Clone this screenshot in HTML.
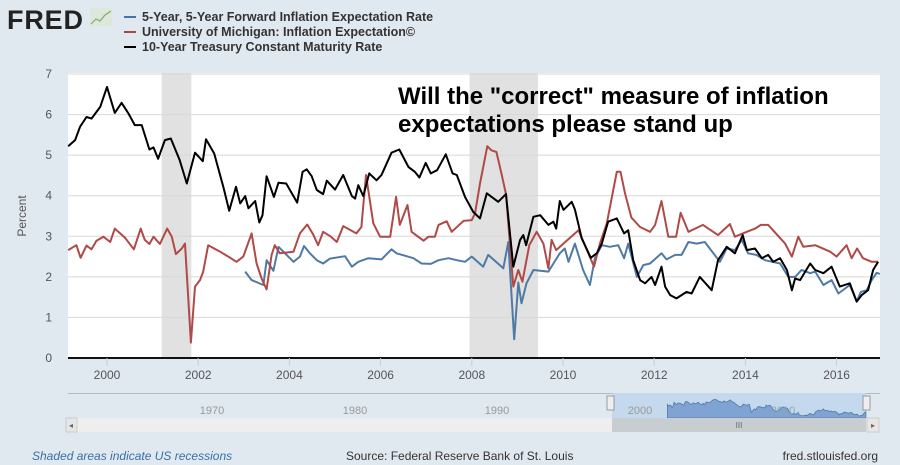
<!DOCTYPE html>
<html><head><meta charset="utf-8">
<style>
html,body{margin:0;padding:0;background:#e1e9f0;}
body{width:900px;height:465px;overflow:hidden;font-family:"Liberation Sans",sans-serif;}
svg{display:block}
</style></head>
<body>
<svg id="chart" width="900" height="465" xmlns="http://www.w3.org/2000/svg">
  <rect x="0" y="0" width="900" height="465" fill="#e1e9f0"/>
  <g>
    <text x="7" y="29" font-family="Liberation Sans" font-weight="bold" font-size="27" fill="#222" textLength="76">FRED</text>
    <rect x="90" y="8" width="22" height="18" fill="#dfe6dc"/>
    <polyline points="91,24 96,19 100,21 105,15 111,11" fill="none" stroke="#7fae6e" stroke-width="1.2"/>
  </g>
  <g font-family="Liberation Sans" font-size="12.5" font-weight="bold" fill="#333">
    <g><line x1="124" y1="17" x2="136" y2="17" stroke="#4572a7" stroke-width="2"/><text x="142" y="21">5-Year, 5-Year Forward Inflation Expectation Rate</text></g>
    <g><line x1="124" y1="32" x2="136" y2="32" stroke="#aa4643" stroke-width="2"/><text x="142" y="36">University of Michigan: Inflation Expectation©</text></g>
    <g><line x1="124" y1="47" x2="136" y2="47" stroke="#000" stroke-width="2"/><text x="142" y="51">10-Year Treasury Constant Maturity Rate</text></g>
  </g>
  <rect x="68" y="73" width="812" height="285" fill="#fff"/>
  <g id="recessions"></g>
  <g id="grid"></g>
  <g id="series"></g>
  <g id="axes"></g>
  <text x="398" y="104" font-family="Liberation Sans" font-weight="bold" font-size="24" fill="#000">Will the "correct" measure of inflation</text>
  <text x="398" y="132" font-family="Liberation Sans" font-weight="bold" font-size="24" fill="#000">expectations please stand up</text>
  <text transform="translate(26,216) rotate(-90)" text-anchor="middle" font-size="12" fill="#555">Percent</text>
  <g>
    <rect x="68" y="393" width="812" height="25" fill="#e1e9f0"/>
    <line x1="68" y1="393.5" x2="880" y2="393.5" stroke="#b0b8c0"/>
    <rect x="612" y="393" width="254" height="25" fill="#c4d8ee"/>
    <g id="navseries"></g>
    <text x="212" y="414" font-size="11" fill="#999" text-anchor="middle">1970</text>
    <text x="355" y="414" font-size="11" fill="#999" text-anchor="middle">1980</text>
    <text x="497" y="414" font-size="11" fill="#999" text-anchor="middle">1990</text>
    <text x="640" y="414" font-size="11" fill="#999" text-anchor="middle">2000</text>
    <text x="783" y="414" font-size="11" fill="#8aa" text-anchor="middle">2010</text>
    <rect x="607" y="396" width="7" height="14" fill="#eee" stroke="#999"/>
    <rect x="863" y="396" width="7" height="14" fill="#eee" stroke="#999"/>
  </g>
  <g>
    <rect x="66" y="418" width="814" height="14" fill="#eeeeee"/>
    <rect x="66" y="418" width="11" height="14" fill="#e6e6e6" stroke="#ccc"/>
    <text x="71" y="428" font-size="8" fill="#666" text-anchor="middle">◂</text>
    <rect x="612" y="418" width="254" height="14" fill="#c8cdd2"/>
    <text x="739" y="428" font-size="8" fill="#666" text-anchor="middle">III</text>
    <rect x="867" y="418" width="12" height="14" fill="#e6e6e6" stroke="#ccc"/>
    <text x="873" y="428" font-size="8" fill="#666" text-anchor="middle">▸</text>
  </g>
  <text x="32" y="460" font-size="12" font-style="italic" fill="#3a6fa8">Shaded areas indicate US recessions</text>
  <text x="346" y="460" font-size="12" fill="#333">Source: Federal Reserve Bank of St. Louis</text>
  <text x="878" y="460" font-size="12" fill="#333" text-anchor="end">fred.stlouisfed.org</text>
</svg>
<script>
const yTicks=[0,1,2,3,4,5,6,7];
const xTicks=[2000,2002,2004,2006,2008,2010,2012,2014,2016];
const recStart=[2001.2,2007.95];
const recEnd=[2001.85,2009.45];
const t10Dates=[1999.15,1999.3,1999.41,1999.55,1999.66,1999.85,2000.0,2000.17,2000.32,2000.47,2000.61,2000.76,2000.93,2001.02,2001.12,2001.27,2001.4,2001.59,2001.75,2001.93,2002.1,2002.17,2002.35,2002.55,2002.68,2002.83,2002.92,2003.03,2003.1,2003.25,2003.34,2003.41,2003.5,2003.66,2003.76,2003.93,2004.17,2004.29,2004.38,2004.49,2004.6,2004.74,2004.82,2005.0,2005.18,2005.37,2005.44,2005.51,2005.62,2005.75,2005.91,2006.02,2006.24,2006.41,2006.61,2006.75,2006.85,2006.99,2007.1,2007.24,2007.43,2007.58,2007.67,2007.85,2008.03,2008.18,2008.33,2008.58,2008.75,2008.91,2009.06,2009.13,2009.19,2009.35,2009.5,2009.68,2009.79,2009.85,2009.93,2010.01,2010.19,2010.26,2010.41,2010.61,2010.74,2010.85,2010.99,2011.18,2011.34,2011.43,2011.54,2011.69,2011.8,2011.94,2012.02,2012.16,2012.24,2012.35,2012.49,2012.71,2012.82,2013.0,2013.26,2013.4,2013.59,2013.77,2013.94,2014.03,2014.21,2014.36,2014.5,2014.61,2014.76,2014.91,2015.02,2015.09,2015.2,2015.42,2015.53,2015.71,2015.89,2016.07,2016.29,2016.44,2016.55,2016.69,2016.8,2016.91];
const t10Values=[5.22,5.37,5.7,5.94,5.9,6.19,6.68,6.04,6.29,6.03,5.74,5.74,5.14,5.19,4.91,5.37,5.41,4.89,4.3,5.06,4.85,5.39,5.04,4.22,3.63,4.22,3.81,3.99,3.69,3.87,3.34,3.52,4.48,3.97,4.32,4.3,3.83,4.59,4.65,4.48,4.14,4.04,4.37,4.15,4.51,3.99,3.93,4.26,3.99,4.55,4.38,4.51,5.06,5.14,4.71,4.59,4.45,4.81,4.55,4.63,5.02,4.55,4.51,3.97,3.6,3.44,4.06,3.85,4.04,2.25,2.91,3.03,2.78,3.48,3.52,3.28,3.36,3.19,3.87,3.65,3.85,3.66,2.95,2.47,2.58,2.82,3.36,3.44,3.07,3.15,2.41,1.92,1.84,2.0,1.8,2.25,1.76,1.55,1.47,1.63,1.59,2.0,1.67,2.41,2.74,2.58,3.03,2.66,2.7,2.46,2.54,2.37,2.46,2.17,1.67,1.96,1.92,2.33,2.17,2.09,2.25,1.76,1.84,1.39,1.55,1.67,2.17,2.37];
const umDates=[1999.15,1999.33,1999.42,1999.55,1999.66,1999.77,1999.92,2000.07,2000.17,2000.39,2000.59,2000.74,2000.83,2000.93,2001.02,2001.16,2001.32,2001.42,2001.51,2001.64,2001.71,2001.84,2001.93,2002.04,2002.11,2002.22,2002.48,2002.66,2002.84,2002.99,2003.17,2003.28,2003.39,2003.5,2003.61,2003.68,2003.79,2004.09,2004.23,2004.39,2004.52,2004.63,2004.74,2004.9,2005.04,2005.18,2005.47,2005.58,2005.68,2005.84,2005.99,2006.21,2006.34,2006.42,2006.59,2006.68,2006.94,2007.05,2007.19,2007.27,2007.45,2007.56,2007.82,2008.0,2008.07,2008.18,2008.34,2008.43,2008.54,2008.65,2008.75,2008.91,2009.02,2009.11,2009.26,2009.42,2009.57,2009.68,2009.75,2009.85,2009.97,2010.34,2010.48,2010.68,2010.81,2010.96,2011.18,2011.26,2011.36,2011.5,2011.69,2011.91,2012.02,2012.16,2012.31,2012.48,2012.58,2012.75,2013.07,2013.4,2013.66,2013.77,2014.03,2014.21,2014.34,2014.5,2014.87,2015.02,2015.16,2015.27,2015.53,2015.86,2016.0,2016.22,2016.33,2016.45,2016.58,2016.77,2016.91];
const umValues=[2.66,2.78,2.47,2.77,2.68,2.89,2.99,2.86,3.19,2.97,2.68,3.19,2.91,2.81,2.99,2.81,3.19,2.99,2.56,2.7,2.82,0.38,1.76,1.92,2.13,2.78,2.62,2.5,2.37,2.5,3.07,2.33,1.96,1.69,2.54,2.78,2.58,2.62,3.07,3.29,3.05,2.78,3.11,3.0,2.86,3.25,3.07,3.23,4.51,3.32,2.99,2.99,3.97,3.28,3.77,3.11,2.89,2.99,2.99,3.28,3.37,3.11,3.38,3.4,3.56,4.3,5.22,5.12,5.08,4.55,4.04,1.76,2.17,1.88,2.78,3.11,2.82,2.21,2.91,2.66,2.78,3.15,2.78,2.25,2.82,3.32,4.59,4.59,4.06,3.46,3.23,3.11,3.28,3.87,2.99,2.99,3.58,3.11,3.28,3.03,3.3,2.99,3.11,3.19,3.28,3.28,2.82,2.5,2.99,2.74,2.78,2.62,2.5,2.78,2.46,2.7,2.46,2.37,2.37];
const fwdDates=[2003.03,2003.17,2003.43,2003.5,2003.65,2003.76,2004.09,2004.23,2004.32,2004.45,2004.6,2004.74,2004.89,2005.22,2005.37,2005.51,2005.73,2006.02,2006.24,2006.35,2006.72,2006.9,2007.1,2007.27,2007.49,2007.67,2007.85,2008.0,2008.25,2008.36,2008.69,2008.8,2008.93,2009.02,2009.09,2009.2,2009.35,2009.68,2009.93,2010.04,2010.12,2010.26,2010.44,2010.59,2010.7,2010.85,2011.03,2011.21,2011.34,2011.43,2011.62,2011.76,2011.91,2012.16,2012.27,2012.46,2012.6,2012.75,2012.93,2013.11,2013.44,2013.59,2013.77,2013.92,2014.06,2014.24,2014.43,2014.76,2014.94,2015.09,2015.23,2015.42,2015.53,2015.71,2015.89,2016.04,2016.29,2016.44,2016.53,2016.66,2016.77,2016.88,2016.95];
const fwdValues=[2.13,1.92,1.8,2.41,2.15,2.74,2.37,2.5,2.76,2.58,2.41,2.33,2.45,2.51,2.25,2.37,2.46,2.43,2.68,2.58,2.46,2.33,2.32,2.41,2.46,2.41,2.37,2.5,2.25,2.54,2.21,2.86,0.46,1.86,1.35,1.84,2.17,2.13,2.58,2.7,2.37,2.82,2.17,1.8,2.46,2.78,2.74,2.78,2.46,2.82,2.0,2.29,2.33,2.58,2.43,2.54,2.54,2.86,2.82,2.86,2.37,2.7,2.66,2.91,2.58,2.54,2.41,2.33,2.0,2.0,2.17,2.09,2.13,1.8,1.92,1.59,1.8,1.39,1.63,1.67,1.92,2.1,2.07];

const NS="http://www.w3.org/2000/svg";
const X0=68,X1=880,YB=358,YT=73;
const xScale=t=>107+(t-2000)*45.6;
const yScale=v=>YB-v*(284/7);
function mk(tag,attrs,parent){const e=document.createElementNS(NS,tag);for(const k in attrs)e.setAttribute(k,attrs[k]);parent.appendChild(e);return e;}
const rec=document.getElementById('recessions');
recStart.forEach((s,i)=>{
  const r=mk('rect',{x:xScale(s),y:YT,width:xScale(recEnd[i])-xScale(s),height:YB-YT,fill:'#e1e1e1'},rec);
  
  
});
const grid=document.getElementById('grid');
const axes=document.getElementById('axes');
yTicks.forEach(v=>{
  if(v>0){const l=mk('line',{x1:X0,x2:X1,y1:yScale(v),y2:yScale(v),stroke:'#d8d8d8','stroke-width':1},grid);
  
  }
  const t=mk('text',{x:52,y:yScale(v)+4,'text-anchor':'end','font-size':12,fill:'#555'},axes);
  t.textContent=v;
  
  
});
const ax=mk('line',{x1:X0,x2:X1,y1:YB,y2:YB,stroke:'#111','stroke-width':2},axes);


xTicks.forEach(y=>{
  mk('line',{x1:xScale(y),x2:xScale(y),y1:YB,y2:YB+8,stroke:'#ccc'},axes);
  const t=mk('text',{x:xScale(y),y:YB+21,'text-anchor':'middle','font-size':12,fill:'#555'},axes);
  t.textContent=y;
  
  
});
const ser=document.getElementById('series');
function line(d,v,color,w,name){
  const pts=d.map((t,i)=>xScale(t).toFixed(1)+','+yScale(v[i]).toFixed(1)).join(' ');
  const p=mk('polyline',{points:pts,fill:'none',stroke:color,'stroke-width':w,'stroke-linejoin':'round'},ser);
  
  
}
line(fwdDates,fwdValues,'#4f7aa6',2,'series-5y5y-forward');
line(umDates,umValues,'#b04a47',2,'series-umich-expectation');
line(t10Dates,t10Values,'#000',2,'series-10y-treasury');
const nav=document.getElementById('navseries');
const nx=t=>667+(t-2003)*14.3;
const ny=v=>418-(v-1)*4.5;
const navDates=t10Dates.filter(t=>t>=2003);
const navVals=t10Values.slice(t10Values.length-navDates.length);
let d='M'+nx(navDates[0])+',418';
navDates.forEach((t,i)=>{d+=' L'+nx(t).toFixed(1)+','+ny(navVals[i]).toFixed(1);});
d+=' L'+nx(navDates[navDates.length-1]).toFixed(1)+',418 Z';
const np=mk('path',{d:d,fill:'#7fa3d3',stroke:'#4f7aa6','stroke-width':0.8},nav);


</script>
</body></html>
